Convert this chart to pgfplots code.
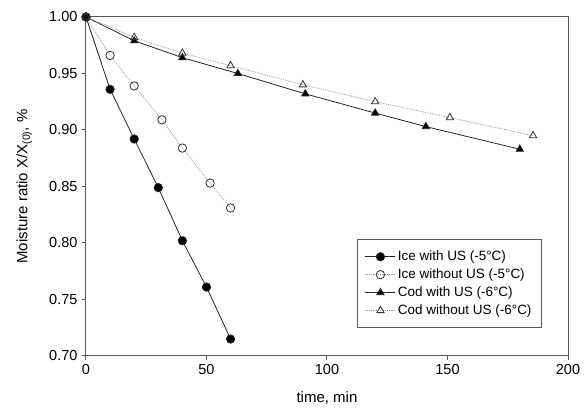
\documentclass[border=0pt]{standalone}
\usepackage{pgfplots}
\pgfplotsset{compat=1.18}
\usepackage{fontspec}
\setmainfont{Liberation Sans}
\begin{document}
\fontsize{13}{15}\selectfont
\begin{tikzpicture}[x=1pt,y=1pt]
\begin{axis}[
  at={(0pt,0pt)}, anchor=origin,
  scale only axis, width=482pt, height=339pt,
  xmin=0, xmax=200, ymin=0.70, ymax=1.00,
  xtick={0,50,100,150,200},
  ytick={0.70,0.75,0.80,0.85,0.90,0.95,1.00},
  tick align=outside, tick pos=lower,
  major tick length=4pt,
  axis line style={gray!70!black, line width=1pt},
  every tick/.style={gray!70!black, line width=1pt},
  /pgf/number format/assume math mode=true,
  yticklabel style={/pgf/number format/fixed, /pgf/number format/fixed zerofill, /pgf/number format/precision=2},
  tick label style={font=\fontsize{14.5}{16}\selectfont},
  xlabel={time, min}, ylabel={Moisture ratio X/X\textsubscript{(0)}, \%},
  label style={font=\fontsize{15}{17}\selectfont},
  xlabel style={at={(axis description cs:0.5,-0.124)}, anchor=center},
  ylabel style={at={(axis description cs:-0.128,0.5)}, anchor=center},
  legend style={at={(0.946,0.083)}, anchor=south east, draw=gray!70!black, line width=0.9pt, font=\fontsize{13.5}{15}\selectfont, row sep=2.2pt, inner xsep=8pt, inner ysep=9pt},
  legend cell align=left,
  legend image code/.code={\draw[mark repeat=2, mark phase=2] plot coordinates {(0pt,0pt) (15pt,0pt) (30pt,0pt)};},
]
\addplot[black!85, line width=0.8pt, mark=*, mark size=4.2pt, mark options={solid, fill=black}] coordinates {
(0,1.000) (10,0.936) (20,0.892) (30,0.849) (40,0.802) (50,0.761) (60,0.715)};
\addlegendentry{Ice with US (-5°C)}
\addplot[gray!80, densely dotted, line width=0.8pt, mark=o, mark size=4.2pt, mark options={solid, draw=black!80, line width=0.8pt, fill=white}] coordinates {
(0,1.000) (10,0.966) (20,0.939) (31.5,0.909) (40,0.884) (51.5,0.853) (60,0.831)};
\addlegendentry{Ice without US (-5°C)}
\addplot[black!85, line width=0.8pt, mark=triangle*, mark size=4.2pt, mark options={solid, fill=black}] coordinates {
(0,1.000) (20,0.979) (40,0.964) (63,0.950) (91,0.932) (120,0.915) (141,0.903) (180,0.883)};
\addlegendentry{Cod with US (-6°C)}
\addplot[gray!80, densely dotted, line width=0.8pt, mark=triangle, mark size=4.2pt, mark options={solid, draw=black!80, line width=0.8pt, fill=white}] coordinates {
(0,1.000) (20,0.982) (40,0.968) (60,0.957) (90,0.940) (120,0.925) (151,0.911) (185.5,0.895)};
\addlegendentry{Cod without US (-6°C)}
\end{axis}
\pgfresetboundingbox
\useasboundingbox (-86pt,-56pt) rectangle (501pt,356pt);
\end{tikzpicture}
\end{document}
